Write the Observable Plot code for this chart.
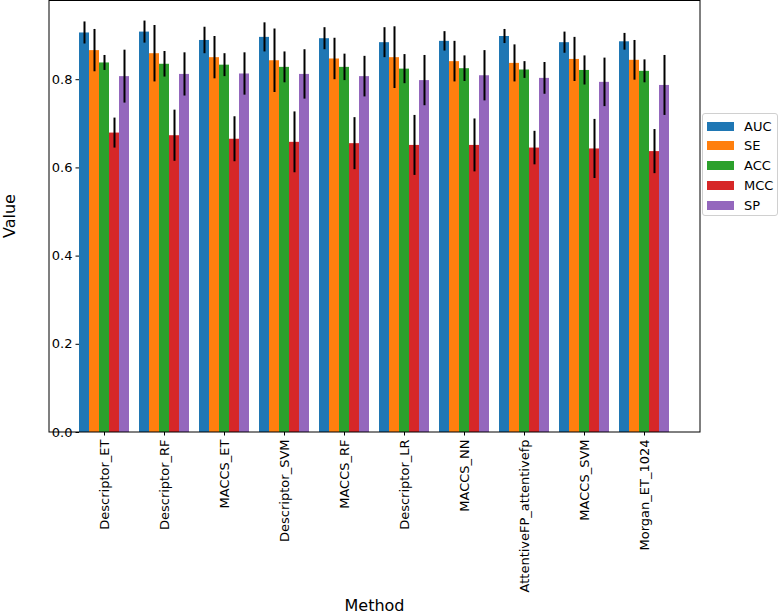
<!DOCTYPE html>
<html><head><meta charset="utf-8">
<script src="https://cdn.jsdelivr.net/npm/d3@7"></script>
<script src="https://cdn.jsdelivr.net/npm/@observablehq/plot@0.6"></script>
<style>
body{margin:0;background:#fff;}
#wrap{position:relative;width:779px;height:615px;font-family:"DejaVu Sans",sans-serif;color:#000;overflow:hidden;}
#wrap svg{position:absolute;left:0;top:0;}
.lab{position:absolute;font-size:16px;white-space:nowrap;line-height:19px;}
#legend{position:absolute;left:702px;top:113px;width:74px;height:101px;border:1px solid #d0d0d0;border-radius:3px;background:#fff;box-sizing:content-box;}
.li{position:absolute;left:4px;height:19px;display:flex;align-items:center;font-size:13px;}
.sw{width:27px;height:9px;margin-right:10px;}
</style></head><body><div id="wrap"></div>
<script>
const methods = ["Descriptor_ET","Descriptor_RF","MACCS_ET","Descriptor_SVM","MACCS_RF","Descriptor_LR","MACCS_NN","AttentiveFP_attentivefp","MACCS_SVM","Morgan_ET_1024"];
const metrics = ["AUC","SE","ACC","MCC","SP"];
const colors = ["#1f77b4","#ff7f0e","#2ca02c","#d62728","#9467bd"];
const AUC = [0.906,0.908,0.889,0.896,0.893,0.884,0.887,0.898,0.884,0.886];
const AUC_err = [0.025,0.025,0.030,0.033,0.025,0.034,0.022,0.016,0.024,0.019];
const SE = [0.866,0.859,0.850,0.843,0.847,0.850,0.841,0.837,0.846,0.844];
const SE_err = [0.048,0.064,0.048,0.072,0.047,0.070,0.046,0.042,0.050,0.045];
const ACC = [0.838,0.835,0.833,0.828,0.828,0.824,0.825,0.822,0.821,0.819];
const ACC_err = [0.017,0.029,0.026,0.035,0.030,0.033,0.029,0.019,0.033,0.026];
const MCC = [0.679,0.673,0.665,0.658,0.655,0.651,0.651,0.645,0.643,0.637];
const MCC_err = [0.034,0.058,0.051,0.069,0.059,0.068,0.060,0.038,0.067,0.050];
const SP = [0.807,0.812,0.813,0.812,0.807,0.798,0.809,0.803,0.794,0.787];
const SP_err = [0.060,0.049,0.048,0.056,0.046,0.057,0.057,0.036,0.055,0.068];
const yTicks = [0, 0.2, 0.4, 0.6, 0.8];
const yLabel = "Value";
const xLabel = "Method";

const series = {AUC: [AUC, AUC_err], SE: [SE, SE_err], ACC: [ACC, ACC_err], MCC: [MCC, MCC_err], SP: [SP, SP_err]};
const data = [];
methods.forEach((m, i) => {
  metrics.forEach(k => {
    const v = series[k][0][i], e = series[k][1][i];
    data.push({method: m, metric: k, value: v, lo: v - e, hi: v + e});
  });
});

const W = 779, H = 615;
const chart = Plot.plot({
  width: W, height: H,
  marginLeft: 49, marginRight: 79, marginTop: 0.5, marginBottom: 183,
  style: {fontFamily: "DejaVu Sans, sans-serif", fontSize: "13px", color: "#000", background: "transparent"},
  fx: {domain: methods, paddingInner: 0.1614, paddingOuter: 0.4957, axis: "bottom", label: null,
       tickRotate: -90, tickSize: 3.5, tickPadding: 3.5},
  x: {domain: metrics, padding: 0, axis: null},
  y: {domain: [0, 0.9785], ticks: yTicks, tickFormat: d3.format(".1f"), tickSize: 3.5, tickPadding: 3.5, label: null},
  color: {domain: metrics, range: colors},
  marks: [
    Plot.barY(data, {fx: "method", x: "metric", y: "value", fill: "metric", inset: 0}),
    Plot.ruleX(data, {fx: "method", x: "metric", y1: "lo", y2: "hi", stroke: "#000", strokeWidth: 2})
  ]
});
const wrap = document.getElementById("wrap");
wrap.appendChild(chart);

// frame from the scales
const fxs = chart.scale("fx"), ys = chart.scale("y");
const x0 = Math.min(...fxs.range), x1 = Math.max(...fxs.range);
const y0 = Math.min(...ys.range), y1 = Math.max(...ys.range);
d3.select(chart).append("rect")
  .attr("x", x0).attr("y", y0).attr("width", x1 - x0).attr("height", y1 - y0)
  .attr("fill", "none").attr("stroke", "#000").attr("stroke-width", 1);

// axis titles
const yl = document.createElement("div");
yl.className = "lab"; yl.textContent = yLabel;
yl.style.left = "8.5px"; yl.style.top = ((y0 + y1) / 2) + "px";
yl.style.transform = "translate(-50%,-50%) rotate(-90deg)";
wrap.appendChild(yl);
const xl = document.createElement("div");
xl.className = "lab"; xl.textContent = xLabel;
xl.style.left = ((x0 + x1) / 2) + "px"; xl.style.top = "596px";
xl.style.transform = "translateX(-50%)";
wrap.appendChild(xl);

// legend
const lg = document.createElement("div");
lg.id = "legend";
metrics.forEach((k, i) => {
  const it = document.createElement("div");
  it.className = "li"; it.style.top = (2.5 + i * 19.75) + "px";
  const sw = document.createElement("span"); sw.className = "sw"; sw.style.background = colors[i];
  const t = document.createElement("span"); t.textContent = k;
  it.appendChild(sw); it.appendChild(t); lg.appendChild(it);
});
wrap.appendChild(lg);
</script></body></html>
